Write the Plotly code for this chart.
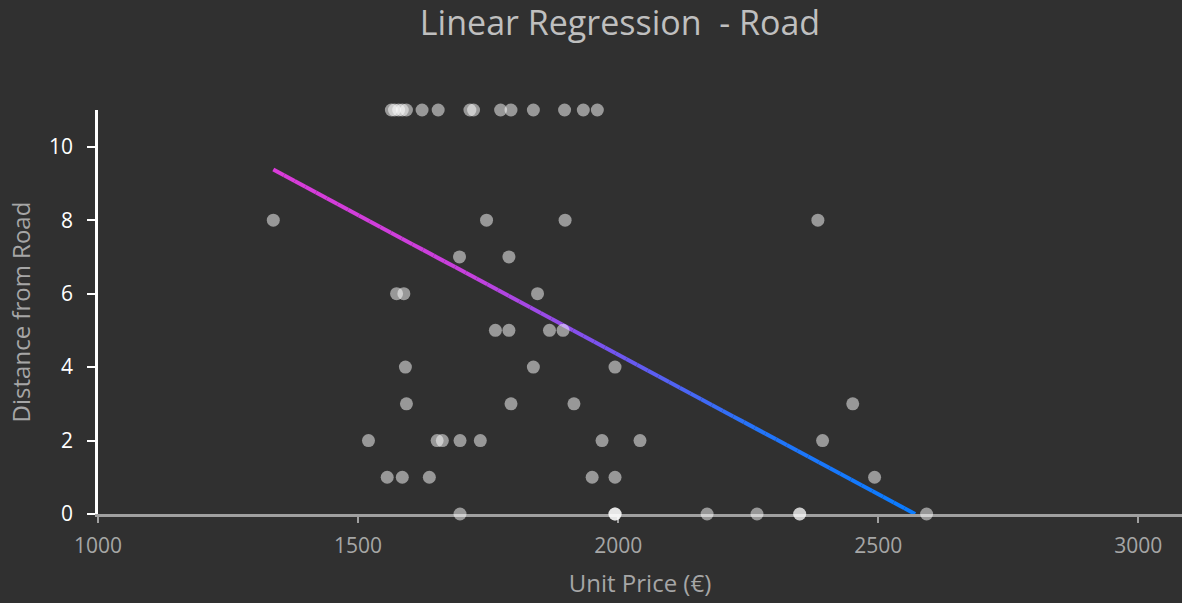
import numpy as np
import plotly.graph_objects as go

# ---- data ----
unit_price = [
    1564, 1570, 1578, 1585, 1593, 1623, 1654, 1715, 1722, 1774, 1794, 1837, 1897, 1933, 1960,
    1337, 1747, 1898, 2384,
    1695, 1790,
    1574, 1588, 1845,
    1764, 1790, 1868, 1894,
    1591, 1837, 1994,
    1593, 1794, 1915, 2451,
    1520, 1652, 1662, 1696, 1735, 1969, 2042, 2393,
    1556, 1585, 1637, 1950, 1994, 2493,
    1696, 1994, 1994, 1994, 2171, 2267, 2349, 2349, 2593,
]
distance = (
    [11] * 15 + [8] * 4 + [7] * 2 + [6] * 3 + [5] * 4 + [4] * 3 + [3] * 4
    + [2] * 8 + [1] * 6 + [0] * 9
)

trend_x = [1337, 2571]
trend_y = [9.38, 0.0]

x_ticks = [1000, 1500, 2000, 2500, 3000]
y_ticks = [0, 2, 4, 6, 8, 10]

BG = "#303030"
FONT = "Open Sans"

# gradient stops for regression line (fraction, rgb)
grad = [(0.0, (217, 60, 217)), (0.3, (200, 64, 220)), (0.5, (125, 82, 238)),
        (0.75, (36, 116, 248)), (1.0, (10, 124, 255))]


def grad_color(t):
    for (t0, c0), (t1, c1) in zip(grad[:-1], grad[1:]):
        if t0 <= t <= t1:
            f = (t - t0) / (t1 - t0)
            c = [round(a + (b - a) * f) for a, b in zip(c0, c1)]
            return f"rgb({c[0]},{c[1]},{c[2]})"
    return "rgb(10,124,255)"


fig = go.Figure()

# gradient-coloured regression line, drawn as short coloured pieces between the two endpoints
n_seg = 60
ts = np.linspace(0, 1, n_seg + 1)
for i in range(n_seg):
    a, b = ts[i], ts[i + 1]
    xs = [trend_x[0] + (trend_x[1] - trend_x[0]) * a, trend_x[0] + (trend_x[1] - trend_x[0]) * b]
    ys = [trend_y[0] + (trend_y[1] - trend_y[0]) * a, trend_y[0] + (trend_y[1] - trend_y[0]) * b]
    fig.add_trace(go.Scatter(
        x=xs, y=ys, mode="lines",
        line=dict(color=grad_color((a + b) / 2), width=4),
        hoverinfo="skip", showlegend=False,
    ))

fig.add_trace(go.Scatter(
    x=unit_price, y=distance, mode="markers",
    marker=dict(color="white", size=13, opacity=0.5, line=dict(width=0)),
    cliponaxis=False, showlegend=False,
))

fig.update_layout(
    width=1182, height=603,
    paper_bgcolor=BG, plot_bgcolor=BG,
    margin=dict(l=98, r=0, t=110, b=89, pad=0),
    font=dict(family=FONT),
    title=dict(
        text="Linear Regression  - Road",
        x=620 / 1182, xanchor="center", xref="paper",
        y=1 - 23 / 603, yanchor="middle", yref="container",
        font=dict(size=34, color="#bfbfbf", family=FONT),
    ),
    showlegend=False,
)
# title x measured in page pixels: convert to container fraction
fig.update_layout(title=dict(xref="container"))

fig.update_xaxes(
    range=[1000, 3084], tickvals=x_ticks, ticktext=[str(v) for v in x_ticks],
    showgrid=False, zeroline=False,
    showline=True, linecolor="#a0a0a0", linewidth=2.5,
    ticks="outside", ticklen=6, tickwidth=2, tickcolor="#a0a0a0",
    tickfont=dict(size=21, color="#a6a6a6", family=FONT),
    ticklabelstandoff=5,
    title=dict(text="Unit Price (€)", font=dict(size=24, color="#a6a6a6", family=FONT), standoff=18),
    layer="below traces",
)
fig.update_yaxes(
    range=[0, 11], tickvals=y_ticks, ticktext=[str(v) for v in y_ticks],
    showgrid=False, zeroline=False,
    showline=True, linecolor="#ffffff", linewidth=2.5,
    ticks="outside", ticklen=8, tickwidth=2, tickcolor="#ffffff",
    tickfont=dict(size=21, color="#ffffff", family=FONT),
    ticklabelstandoff=10,
    title=dict(text="Distance from Road", font=dict(size=24, color="#a6a6a6", family=FONT), standoff=12),
    layer="below traces",
)

fig.write_html(
    "out.html",
    config={"displayModeBar": False},
    post_script="document.body.style.margin='0';document.body.style.background='%s';" % BG,
)
